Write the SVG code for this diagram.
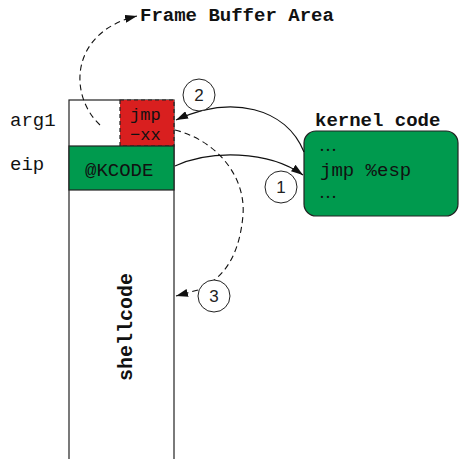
<svg xmlns="http://www.w3.org/2000/svg" width="460" height="459" viewBox="0 0 460 459">
  <style>
    .mono { font-family: "Liberation Mono", "DejaVu Sans Mono", monospace; font-size: 19px; fill: #111; }
    .bold { font-weight: bold; }
    .small { font-size: 17px; }
    .big { font-size: 20px; }
    .dots { font-family: "Liberation Serif", serif; font-size: 18px; fill: #111; }
    .num { font-family: "Liberation Sans", Arial, sans-serif; font-size: 17px; fill: #222; text-anchor: middle; }
    .cell { stroke: #222; stroke-width: 1.2; }
    .solid { fill: none; stroke: #111; stroke-width: 1.2; }
    .dash { fill: none; stroke: #111; stroke-width: 1.1; stroke-dasharray: 6 4; }
    .badge { fill: #fff; stroke: #222; stroke-width: 1; }
  </style>
  <defs>
    <marker id="head" viewBox="0 0 12 8" refX="12" refY="4" markerWidth="12" markerHeight="8" markerUnits="userSpaceOnUse" orient="auto">
      <path d="M0,0 L12,4 L0,8 Z" fill="#111"/>
    </marker>
  </defs>
  <rect width="460" height="459" fill="#fff"/>

  <!-- stack frame -->
  <g id="stack">
    <rect x="69" y="100" width="105" height="370" fill="#fff" class="cell"/>
    <text x="10" y="126" class="mono">arg1</text>
    <text x="10" y="170" class="mono">eip</text>
  </g>
  <g id="arg1-slot">
    <rect x="120" y="100" width="54" height="46" fill="#d91f1f" stroke="#222" stroke-width="1.2" stroke-dasharray="4 3"/>
    <text x="130" y="120" class="mono small">jmp</text>
    <text x="130" y="140" class="mono small">−xx</text>
  </g>
  <g id="eip-slot">
    <rect x="69" y="146" width="105" height="44" fill="#009a4e" class="cell"/>
    <text x="85" y="176" class="mono">@KCODE</text>
  </g>
  <g id="shellcode">
    <text transform="translate(132,327) rotate(-90)" text-anchor="middle" class="mono bold big">shellcode</text>
  </g>

  <!-- kernel code block -->
  <g id="kernel">
    <text x="315" y="126" class="mono bold">kernel code</text>
    <rect x="304" y="131" width="154" height="85" rx="12" fill="#009a4e" stroke="#222" stroke-width="1.2"/>
    <text x="319" y="151" class="dots">…</text>
    <text x="320" y="176" class="mono">jmp %esp</text>
    <text x="319" y="198" class="dots">…</text>
  </g>

  <g id="frame-buffer-label">
    <text x="140" y="21" class="mono bold">Frame Buffer Area</text>
  </g>

  <!-- control flow -->
  <g id="connectors">
    <path d="M175,166 C210,150 268,150 303,175" class="solid" marker-end="url(#head)"/>
    <path d="M304,152 C286,108 232,94 176,120" class="solid" marker-end="url(#head)"/>
    <path d="M175,130 C215,140 246,175 243,215 C240,250 228,270 213,281" class="dash"/>
    <path d="M198,290 L176,296" class="dash" marker-end="url(#head)"/>
    <path d="M100,125 C68,95 70,32 137,16" class="dash" marker-end="url(#head)"/>
  </g>

  <g id="step-1">
    <circle cx="281" cy="187" r="16" class="badge"/>
    <text x="281" y="193" class="num">1</text>
  </g>
  <g id="step-2">
    <circle cx="199" cy="95" r="16" class="badge"/>
    <text x="199" y="101" class="num">2</text>
  </g>
  <g id="step-3">
    <circle cx="214" cy="296" r="16" class="badge"/>
    <text x="214" y="302" class="num">3</text>
  </g>
</svg>
